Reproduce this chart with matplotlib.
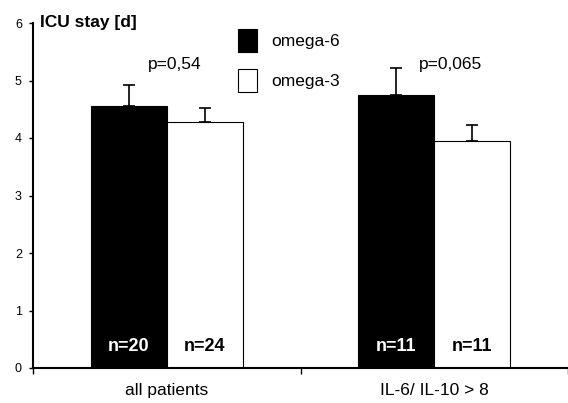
import numpy as np
import matplotlib
matplotlib.use("Agg")
from matplotlib import pyplot as plt
from matplotlib.patches import Rectangle

plt.rcParams['font.family'] = ['Liberation Sans', 'DejaVu Sans']

groups = ['all patients', 'IL-6/ IL-10 > 8']
series = ['omega-6', 'omega-3']
omega6 = [4.55, 4.74]
omega6_err = [0.37, 0.47]
omega3 = [4.27, 3.94]
omega3_err = [0.26, 0.28]
n6 = ['n=20', 'n=11']
n3 = ['n=24', 'n=11']
pvals = ['p=0,54', 'p=0,065']

fig = plt.figure(figsize=(5.68, 4.03), dpi=100)
ax = fig.add_axes([33 / 568, 35 / 403, 535 / 568, 345 / 403])

x = np.arange(len(groups)) + 0.5
w = 0.285

ax.bar(x - w / 2, omega6, w, color='black', edgecolor='black', linewidth=0.8, zorder=2)
ax.bar(x + w / 2, omega3, w, color='white', edgecolor='black', linewidth=0.8, zorder=2)

# only upper half of the error bars
ax.errorbar(x - w / 2, omega6, yerr=[np.zeros(2), omega6_err], fmt='none',
            ecolor='black', elinewidth=1.2, capsize=4, capthick=1.2, zorder=3)
ax.errorbar(x + w / 2, omega3, yerr=[np.zeros(2), omega3_err], fmt='none',
            ecolor='black', elinewidth=1.2, capsize=4, capthick=1.2, zorder=3)

for i in range(len(groups)):
    ax.text(x[i] - w / 2, 0.37, n6[i], color='white', fontsize=13, fontweight='bold',
            ha='center', va='center', zorder=4)
    ax.text(x[i] + w / 2, 0.37, n3[i], color='black', fontsize=13, fontweight='bold',
            ha='center', va='center', zorder=4)

ax.text(x[0] + 0.03, 5.27, pvals[0], fontsize=12.5, ha='center', va='center')
ax.text(x[1] + 0.06, 5.27, pvals[1], fontsize=12.5, ha='center', va='center')

ax.text(0.025, 6.0, 'ICU stay [d]', fontsize=12.5, fontweight='bold', ha='left', va='center')

# legend boxes
ax.add_patch(Rectangle((0.767, 5.5), 0.07, 0.4, facecolor='black', edgecolor='black', lw=0.8))
ax.add_patch(Rectangle((0.767, 4.8), 0.07, 0.4, facecolor='white', edgecolor='black', lw=0.8))
ax.text(0.889, 5.68, series[0], fontsize=12.5, ha='left', va='center')
ax.text(0.889, 4.98, series[1], fontsize=12.5, ha='left', va='center')

ax.set_xlim(0, 535 / 270)
ax.set_ylim(0, 6)
ax.set_yticks(range(7))
ax.set_xticks(x)
ax.set_xticklabels(groups, fontsize=12.5)
ax.set_xticks([0, 1, 2], minor=True)
ax.tick_params(axis='x', which='major', length=0, pad=11)
ax.tick_params(axis='x', which='minor', length=4, direction='out', width=1)
ax.tick_params(axis='y', length=3, width=1, direction='out', labelsize=9, pad=5)

for s in ['top', 'right']:
    ax.spines[s].set_visible(False)
ax.spines['left'].set_linewidth(1.5)
ax.spines['bottom'].set_linewidth(1.5)

plt.savefig('out.png', dpi=100)
